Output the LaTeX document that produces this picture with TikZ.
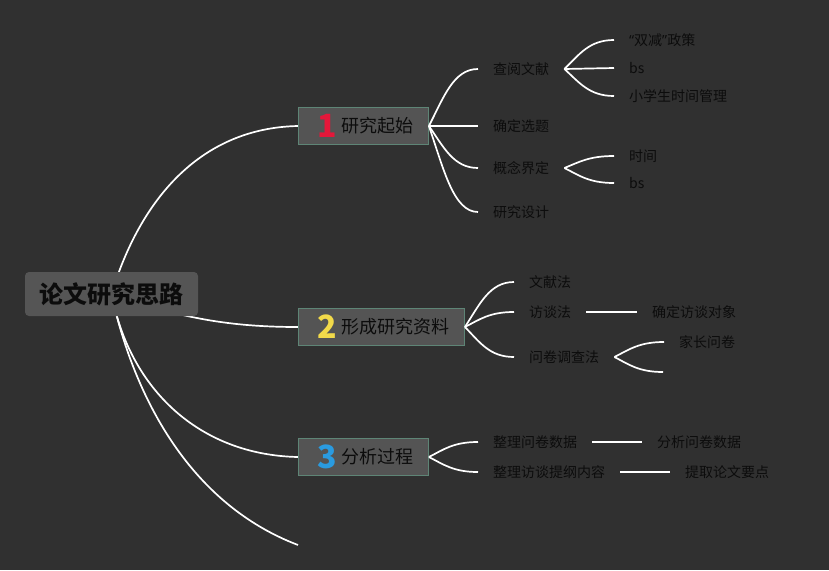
\documentclass[tikz,border=0pt]{standalone}
\usepackage{fontspec}
\setmainfont{Noto Sans CJK SC}
\newfontfamily\latinfont{Noto Sans}
\usetikzlibrary{calc}
\pgfdeclarelayer{bg}
\pgfsetlayers{bg,main}
\definecolor{bgcol}{HTML}{303030}
\definecolor{rootcol}{HTML}{555555}
\definecolor{topiccol}{HTML}{545454}
\definecolor{framecol}{HTML}{5E8576}
\definecolor{inkcol}{HTML}{0C0C0C}
\definecolor{badgered}{HTML}{E3173A}
\definecolor{badgeyellow}{HTML}{F2DA4A}
\definecolor{badgeblue}{HTML}{2A9BE0}
\newcommand{\badge}[2]{\makebox[28pt][c]{\raisebox{-5pt}[0pt][0pt]{\color{#1}\fontsize{32}{32}\selectfont\bfseries #2}}}

\begin{document}
\begin{tikzpicture}[x=1pt,y=1pt,
    every node/.style={text=inkcol},
    rootnode/.style={fill=rootcol, rounded corners=4pt, font=\fontsize{24}{24}\selectfont\bfseries,
        text height=21pt, text depth=3pt, inner xsep=14.5pt, inner ysep=0pt, minimum height=44pt},
    topic/.style={fill=topiccol, draw=framecol, line width=0.9pt, font=\fontsize{18}{18}\selectfont,
        text height=15.8pt, text depth=2.2pt, inner xsep=15pt, inner ysep=0pt, minimum height=37pt, anchor=west},
    leaf/.style={font=\fontsize{14}{14}\selectfont, text height=12.3pt, text depth=1.7pt,
        inner xsep=15pt, inner ysep=0pt, anchor=west},
    link/.style={draw=white, line width=1.7pt},
    fan/.style={to path={let \p1=(\tikztostart), \p2=(\tikztotarget) in
        .. controls ({\x1+0.3*(\x2-\x1)},{\y1+0.5*(\y2-\y1)}) and ({\x2-0.5*(\x2-\x1)},\y2) .. (\tikztotarget)}}]

    \node[rootnode] (thesis) at (111.5,-294) {论文研究思路};

    \node[topic] (start) at (298,-126) {\badge{badgered}{1}研究起始};
    \node[topic] (material) at (298,-327) {\badge{badgeyellow}{2}形成研究资料};
    \node[topic] (analysis) at (298,-457) {\badge{badgeblue}{3}分析过程};
    \coordinate (tail) at (298,-545);

    \node[leaf] (review) at (478,-69) {查阅文献};
    \node[leaf] (choose) at (478,-126) {确定选题};
    \node[leaf] (define) at (478,-168) {概念界定};
    \node[leaf] (design) at (478,-212) {研究设计};
    \node[leaf] (policy) at (614,-40) {{\latinfont “}双减{\latinfont ”}政策};
    \node[leaf] (bsa) at (614,-68) {bs};
    \node[leaf] (timemgmt) at (614,-96) {小学生时间管理};
    \node[leaf] (shijian) at (614,-156) {时间};
    \node[leaf] (bsb) at (614,-183) {bs};

    \node[leaf] (docs) at (514,-282) {文献法};
    \node[leaf] (interview) at (514,-312) {访谈法};
    \node[leaf] (survey) at (514,-357) {问卷调查法};
    \node[leaf] (target) at (637,-312) {确定访谈对象};
    \node[leaf] (parents) at (664,-342) {家长问卷};
    \coordinate (surveyb) at (663,-372);

    \node[leaf] (sortdata) at (478,-442) {整理问卷数据};
    \node[leaf] (sortnotes) at (478,-472) {整理访谈提纲内容};
    \node[leaf] (analyse) at (642,-442) {分析问卷数据};
    \node[leaf] (extract) at (670,-472) {提取论文要点};

    \begin{pgfonlayer}{bg}
        \fill[bgcol] (0,0) rectangle (829,-570);
        \draw[link] (thesis.center) .. controls (140,-200) and (200,-128) .. (start.west);
        \draw[link] (thesis.center) .. controls (180,-318) and (230,-327) .. (material.west);
        \draw[link] (thesis.center) .. controls (130,-390) and (200,-455) .. (analysis.west);
        \draw[link] (thesis.center) .. controls (130,-380) and (180,-500) .. (tail);
    \end{pgfonlayer}

    \draw[link] (start.east) to[fan] (review.west);
    \draw[link] (start.east) -- (choose.west);
    \draw[link] (start.east) to[fan] (define.west);
    \draw[link] (start.east) to[fan] (design.west);
    \draw[link] (review.east) to[fan] (policy.west);
    \draw[link] (review.east) -- (bsa.west);
    \draw[link] (review.east) to[fan] (timemgmt.west);
    \draw[link] (define.east) to[fan] (shijian.west);
    \draw[link] (define.east) to[fan] (bsb.west);

    \draw[link] (material.east) to[fan] (docs.west);
    \draw[link] (material.east) to[fan] (interview.west);
    \draw[link] (material.east) to[fan] (survey.west);
    \draw[link] (interview.east) -- (target.west);
    \draw[link] (survey.east) to[fan] (parents.west);
    \draw[link] (survey.east) to[fan] (surveyb);

    \draw[link] (analysis.east) to[fan] (sortdata.west);
    \draw[link] (analysis.east) to[fan] (sortnotes.west);
    \draw[link] (sortdata.east) -- (analyse.west);
    \draw[link] (sortnotes.east) -- (extract.west);
\end{tikzpicture}
\end{document}
